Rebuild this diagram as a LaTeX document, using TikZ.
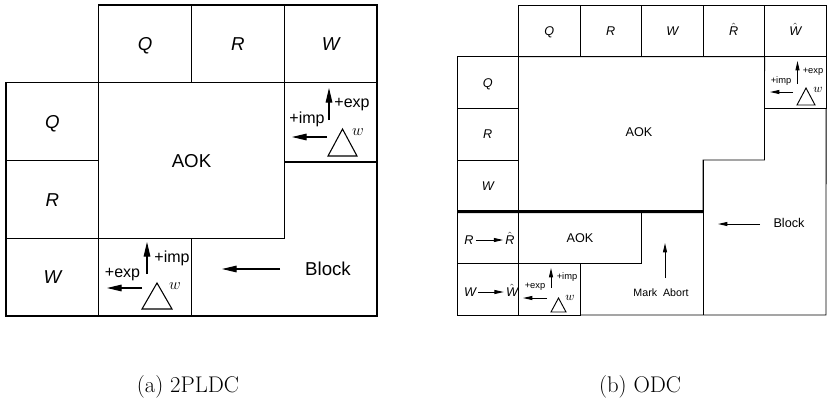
\documentclass[tikz,border=0pt]{standalone}
\usepackage{fontspec}
\setsansfont{Liberation Sans}
\usetikzlibrary{arrows.meta,positioning}

\begin{document}
\begin{tikzpicture}[
  x=0.75pt, y=-0.75pt,
  edgeL/.style={line width=0.8pt},
  edgeR/.style={line width=0.7pt},
  cellL/.style={draw, edgeL, minimum width=69.56pt, minimum height=58.31pt,
                inner sep=0pt, outer sep=0pt, text height=10pt, text depth=0pt,
                font=\sffamily\fontsize{14}{16}\selectfont},
  cellR/.style={draw, edgeR, minimum width=46.13pt, minimum height=38.75pt,
                inner sep=0pt, outer sep=0pt, text height=6.8pt, text depth=0pt,
                font=\sffamily\fontsize{9.5}{11}\selectfont},
  lblL/.style={inner sep=0pt, text height=10pt, text depth=0pt,
               font=\sffamily\fontsize{14}{16}\selectfont},
  lblR/.style={inner sep=1.5pt, text height=6.8pt, text depth=0pt,
               font=\sffamily\fontsize{9.5}{11}\selectfont},
  tagL/.style={inner sep=0pt, font=\sffamily\fontsize{12}{14}\selectfont},
  tagR/.style={inner sep=0pt, font=\sffamily\fontsize{7}{8}\selectfont},
  supL/.style={inner sep=0pt, font=\fontsize{13}{14}\selectfont},
  supR/.style={inner sep=0pt, font=\fontsize{9}{10}\selectfont},
  arrL/.style={-{Triangle[length=11pt,width=5pt]}, edgeL},
  arrR/.style={-{Triangle[length=7pt,width=3pt]}, edgeR},
  thickline/.style={line width=2.25pt},
  capt/.style={anchor=base, font=\fontsize{17}{20}\selectfont},
]
  \useasboundingbox (0,0) rectangle (827,404);

  %% (a) 2PLDC -- header row and left column
  \node[cellL] (tQ) at (145.13,43.88) {\itshape Q};
  \node[cellL, right=0pt of tQ] (tR) {\itshape R};
  \node[cellL, right=0pt of tR] (tW) {\itshape W};
  \node[cellL] (lQ) at (52.38,121.63) {\itshape Q};
  \node[cellL, below=0pt of lQ] (lR) {\itshape R};
  \node[cellL, below=0pt of lR] (lW) {\itshape W};

  %% AOK, the two hold boxes and the Block area
  \node[cellL, minimum width=139.13pt, minimum height=116.63pt] (aok) at (191.5,160.5) {AOK};
  \node[cellL, minimum height=59.44pt, below=0pt of tW] (holdA) {};
  \node[cellL, right=0pt of lW] (holdB) {};
  \draw[edgeL] (holdB.south east) -- (holdA.south east |- holdB.south east) -- (holdA.south east);
  \node[lblL] (blk) at (328,269) {Block};
  \coordinate (blkT) at (280,269);
  \coordinate (blkH) at (222,269);
  \draw[arrL] (blkT) -- (blkH);

  %% hold box beside AOK
  \coordinate (upA1) at (329,120);
  \coordinate (upA2) at (329,88);
  \draw[arrL] (upA1) -- (upA2);
  \node[tagL] (expA) at (352,105) {+exp};
  \node[tagL] (impA) at (307,119) {+imp};
  \coordinate (lfA1) at (327,137);
  \coordinate (lfA2) at (292,137);
  \draw[arrL] (lfA1) -- (lfA2);
  \draw[edgeL] (342.5,129) -- (357,156) -- (328,156) -- cycle;
  \node[supL] (wA) at (358,132) {$w$};

  %% hold box below AOK
  \coordinate (upB1) at (147,274);
  \coordinate (upB2) at (147,242);
  \draw[arrL] (upB1) -- (upB2);
  \node[tagL] (impB) at (172,258) {+imp};
  \node[tagL] (expB) at (122.5,275) {+exp};
  \coordinate (lfB1) at (142,288);
  \coordinate (lfB2) at (107,288);
  \draw[arrL] (lfB1) -- (lfB2);
  \draw[edgeL] (157,283) -- (172,309) -- (142,309) -- cycle;
  \node[supL] (wB) at (175,286) {$w$};

  %% (b) ODC -- header row and left column
  \node[cellR] (tQ2) at (549.25,30.83) {\itshape Q};
  \node[cellR, right=0pt of tQ2] (tR2) {\itshape R};
  \node[cellR, right=0pt of tR2] (tW2) {\itshape W};
  \node[cellR, right=0pt of tW2] (tRh2) {$\hat{\textit{R}}$};
  \node[cellR, right=0pt of tRh2] (tWh2) {$\hat{\textit{W}}$};
  \node[cellR] (lQ2) at (487.75,82.5) {\itshape Q};
  \node[cellR, below=0pt of lQ2] (lR2) {\itshape R};
  \node[cellR, below=0pt of lR2] (lW2) {\itshape W};
  \node[cellR, below=0pt of lW2] (lRR2) {};
  \node[cellR, below=0pt of lRR2] (lWW2) {};

  %% R -> R^ and W -> W^
  \node[lblR] (rOld) at (469,240) {\itshape R};
  \node[lblR] (rNew) at (510,240) {$\hat{\textit{R}}$};
  \draw[arrR] (rOld) -- (rNew);
  \node[lblR] (wOld) at (470,292) {\itshape W};
  \node[lblR] (wNew) at (512,292) {$\hat{\textit{W}}$};
  \draw[arrR] (wOld) -- (wNew);

  %% AOK areas, hold boxes, Mark Abort and Block areas
  \node[cellR, below=0pt of tWh2] (exR) {};
  \node[cellR, right=0pt of lWW2] (bxR) {};
  \node[cellR, minimum width=92.25pt, right=0pt of lRR2] (aokLow) {AOK};
  \draw[edgeR] (tQ2.south west) -- (tRh2.south east) -- (764.5,160) -- (703,160)
    -- (703,211.67) -- (lW2.south east);
  \node[lblR] (aokUp) at (639,132) {AOK};
  \draw[edgeR] (bxR.south east) -- (826,315) -- (exR.south east);
  \draw[edgeR] (703,160) -- (703,315);
  \draw[thickline] (lW2.south west) -- (703,211.67);

  \node[lblR] (blk2) at (789,223) {Block};
  \coordinate (blk2T) at (760,224);
  \coordinate (blk2H) at (718,224);
  \draw[arrR] (blk2T) -- (blk2H);
  \node[lblR, font=\sffamily\fontsize{8}{10}\selectfont] (mark) at (661,292) {Mark\ \ Abort};
  \coordinate (markT) at (665,278);
  \coordinate (markH) at (665,243);
  \draw[arrR] (markT) -- (markH);

  %% hold box top right
  \coordinate (upC1) at (797.5,84);
  \coordinate (upC2) at (797.5,61);
  \draw[arrR] (upC1) -- (upC2);
  \node[tagR] (expC) at (813,72) {+exp};
  \node[tagR] (impC) at (781,81) {+imp};
  \coordinate (lfC1) at (793,92);
  \coordinate (lfC2) at (770,92);
  \draw[arrR] (lfC1) -- (lfC2);
  \draw[edgeR] (806,88) -- (815,105) -- (797,105) -- cycle;
  \node[supR] (wC) at (818,90) {$w$};

  %% hold box bottom
  \coordinate (upD1) at (551,288);
  \coordinate (upD2) at (551,268);
  \draw[arrR] (upD1) -- (upD2);
  \node[tagR] (impD) at (567,277) {+imp};
  \node[tagR] (expD) at (535,287) {+exp};
  \coordinate (lfD1) at (547,298);
  \coordinate (lfD2) at (523,298);
  \draw[arrR] (lfD1) -- (lfD2);
  \draw[edgeR] (558.5,298) -- (566,312) -- (551,312) -- cycle;
  \node[supR] (wD) at (570,298) {$w$};

  %% captions
  \node[capt] (capA) at (188,392) {(a) 2PLDC};
  \node[capt] (capB) at (640,392) {(b) ODC};
\end{tikzpicture}
\end{document}
